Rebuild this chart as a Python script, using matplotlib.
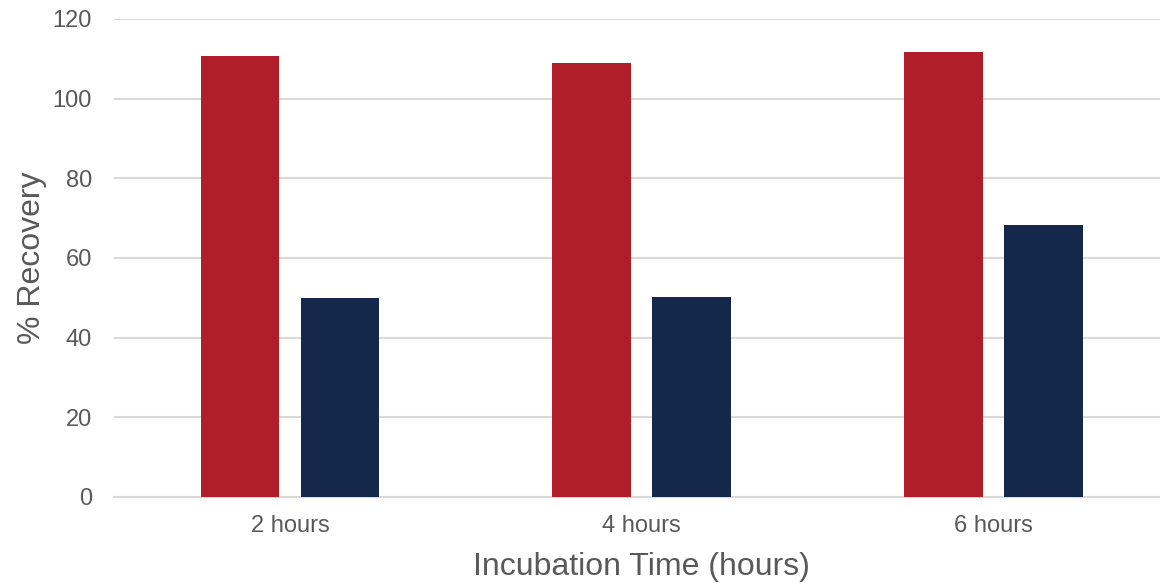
import numpy as np
import matplotlib
matplotlib.use("Agg")
import matplotlib.pyplot as plt

plt.rcParams['font.family'] = ['Liberation Sans', 'DejaVu Sans']

# recovery per incubation time
times = ['2 hours', '4 hours', '6 hours']
series_a = [110.8, 108.9, 111.8]
series_b = [50.0, 50.3, 68.4]

red = '#B01F29'
navy = '#14284B'
grey_text = '#595959'
grid_col = '#D9D9D9'

fig = plt.figure(figsize=(11.6, 5.84), dpi=100)
ax = fig.add_axes([0.0983, 0.149, 0.910, 0.8185])

x = np.arange(len(times))
w = 0.224
off = 0.142
ax.bar(x - off, series_a, width=w, color=red, zorder=3)
ax.bar(x + off, series_b, width=w, color=navy, zorder=3)

ax.set_xlim(-0.5, 2.5)
ax.set_ylim(0, 120)
ax.set_yticks(np.arange(0, 121, 20))
ax.set_xticks(x)
ax.set_xticklabels(times)

ax.yaxis.grid(True, color=grid_col, linewidth=1.5, zorder=0)
ax.set_axisbelow(True)
for s in ['top', 'right', 'left']:
    ax.spines[s].set_visible(False)
ax.spines['bottom'].set_color(grid_col)
ax.spines['bottom'].set_linewidth(1.5)

ax.tick_params(axis='y', length=0, pad=16, labelsize=17, labelcolor=grey_text)
ax.tick_params(axis='x', length=0, pad=13, labelsize=17, labelcolor=grey_text)

ax.set_xlabel('Incubation Time (hours)', fontsize=23, color=grey_text, labelpad=11)
ax.set_ylabel('% Recovery', fontsize=23, color=grey_text, labelpad=4)

fig.savefig('out.png', dpi=100)
